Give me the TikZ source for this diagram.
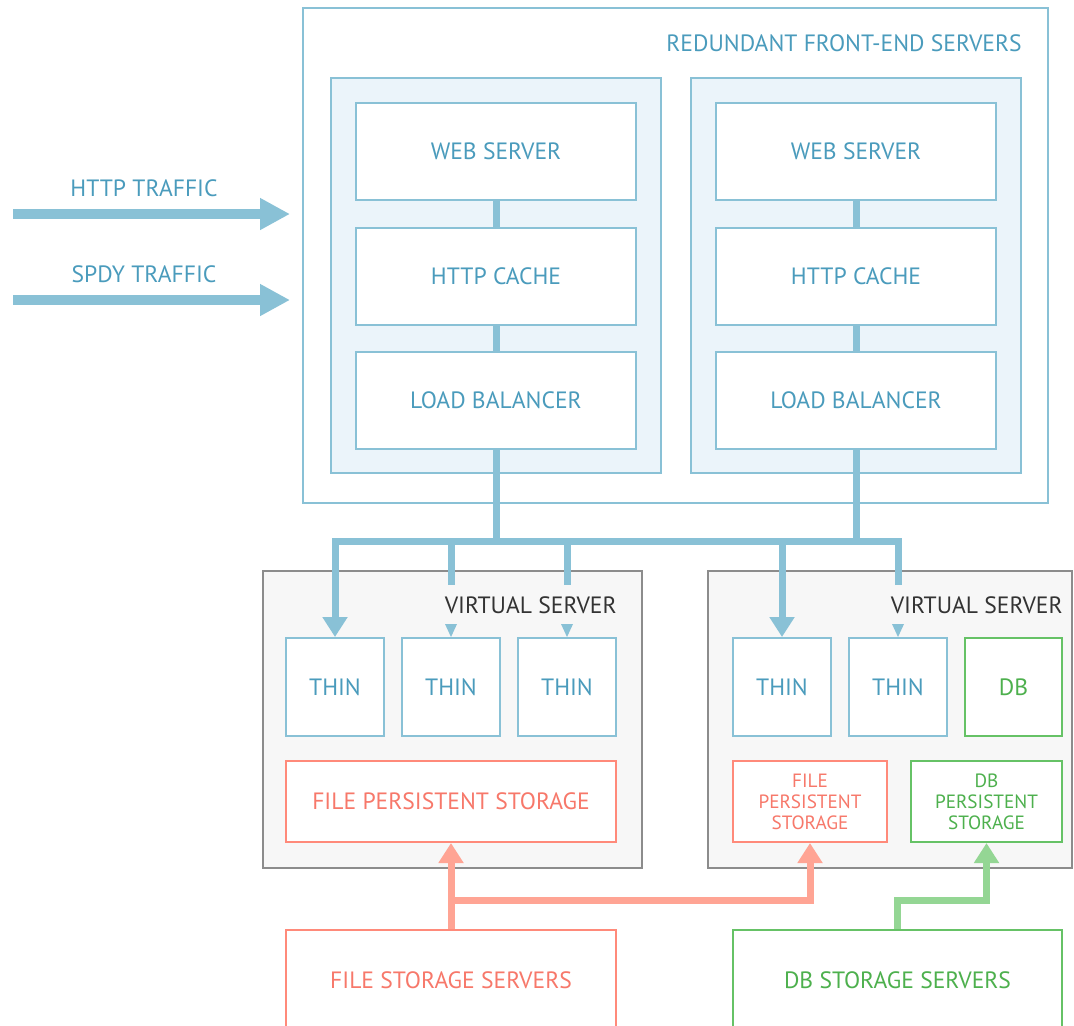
\documentclass[tikz,border=0pt]{standalone}
\usepackage{fontspec}
\setmainfont{PT Sans}
\usetikzlibrary{arrows.meta,calc}
\definecolor{blueline}{RGB}{137,193,214}
\definecolor{bluetext}{RGB}{74,155,188}
\definecolor{groupfill}{RGB}{235,244,250}
\definecolor{vsfill}{RGB}{247,247,247}
\definecolor{vsborder}{RGB}{140,140,140}
\definecolor{vstext}{RGB}{51,51,51}
\definecolor{redline}{RGB}{255,164,148}
\definecolor{redborder}{RGB}{255,138,122}
\definecolor{redtext}{RGB}{247,120,106}
\definecolor{greenline}{RGB}{148,214,148}
\definecolor{greenborder}{RGB}{102,194,102}
\definecolor{greentext}{RGB}{77,176,77}
\begin{document}
\begin{tikzpicture}[x=0.5pt, y=-0.5pt, >=Triangle,
    every node/.style={font=\fontsize{11.8}{13}\selectfont, inner sep=0pt},
    group/.style={draw=blueline, line width=1pt},
    box/.style={draw=blueline, fill=white, line width=1pt, text=bluetext, minimum width=140pt, minimum height=48.5pt},
    thin/.style={box, minimum width=49pt, minimum height=49pt},
    vserver/.style={draw=vsborder, fill=vsfill, line width=0.8pt, minimum height=148.5pt},
    redbox/.style={draw=redborder, fill=white, line width=1pt, text=redtext},
    greenbox/.style={draw=greenborder, fill=white, line width=1pt, text=greentext},
    small/.style={font=\fontsize{9.6}{10.5}\selectfont, align=center},
    link/.style={draw=blueline, line width=3.5pt, line join=miter},
    redlink/.style={draw=redline, line width=3.5pt, line join=miter},
    greenlink/.style={draw=greenline, line width=3.5pt, line join=miter},
    traffic/.style={draw=blueline, line width=5pt, -{Triangle[length=15pt, width=15pt]}},
    head/.style={-{Triangle[length=10pt, width=12pt]}}]
    \clip (0,0) rectangle (1074,1025); %画布范围

    %% 前端服务器
    \node[group, minimum width=372.5pt, minimum height=247.5pt] (frontend) at (675.5,255.5) {};
    \node[anchor=east, text=bluetext] (fetitle) at (1022,43) {REDUNDANT FRONT-END SERVERS};
    \node[group, fill=groupfill, minimum width=165pt, minimum height=197.5pt] (colL) at (496,275.5) {};
    \node[group, fill=groupfill, minimum width=165pt, minimum height=197.5pt] (colR) at (856,275.5) {};
    \node[box] (webL) at (496,151.5) {WEB SERVER};
    \node[box] (cacheL) at (496,276.5) {HTTP CACHE};
    \node[box] (lbL) at (496,400.5) {LOAD BALANCER};
    \node[box] (webR) at (856,151.5) {WEB SERVER};
    \node[box] (cacheR) at (856,276.5) {HTTP CACHE};
    \node[box] (lbR) at (856,400.5) {LOAD BALANCER};
    \draw[link] (webL) -- (cacheL);
    \draw[link] (cacheL) -- (lbL);
    \draw[link] (webR) -- (cacheR);
    \draw[link] (cacheR) -- (lbR);

    %% 流量箭头
    \coordinate (httpin) at (13,214);
    \coordinate (httpout) at (290,214);
    \coordinate (spdyin) at (13,300);
    \coordinate (spdyout) at (290,300);
    \node[text=bluetext] (httplabel) at (144,188) {HTTP TRAFFIC};
    \node[text=bluetext] (spdylabel) at (144,274) {SPDY TRAFFIC};
    \draw[traffic] (httpin) -- (httpout);
    \draw[traffic] (spdyin) -- (spdyout);

    %% 虚拟服务器
    \node[vserver, minimum width=189.5pt] (vsL) at (452.5,719.5) {};
    \node[vserver, minimum width=182pt] (vsR) at (890,719.5) {};
    \node[anchor=east, text=vstext] (vsLtitle) at (617,605) {VIRTUAL SERVER};
    \node[anchor=east, text=vstext] (vsRtitle) at (1063,605) {VIRTUAL SERVER};
    \node[thin] (thin1) at (335,687) {THIN};
    \node[thin] (thin2) at (451,687) {THIN};
    \node[thin] (thin3) at (567,687) {THIN};
    \node[thin] (thin4) at (782,687) {THIN};
    \node[thin] (thin5) at (898,687) {THIN};
    \node[greenbox, minimum width=48.5pt, minimum height=49pt] (db) at (1013.5,687) {DB};
    \node[redbox, minimum width=165pt, minimum height=40.5pt] (fpsL) at (451,801.5) {FILE PERSISTENT STORAGE};
    \node[redbox, small, minimum width=77pt, minimum height=40.5pt] (fpsR) at (810,801.5) {FILE\\PERSISTENT\\STORAGE};
    \node[greenbox, small, minimum width=75.5pt, minimum height=40.5pt] (dbps) at (986.5,801.5) {DB\\PERSISTENT\\STORAGE};

    %% 负载均衡到 THIN
    \coordinate (bus) at (496,541);
    \coordinate (stub) at (496,585);
    \draw[link] (lbL) -- (lbL |- bus);
    \draw[link] (lbR) -- (lbR |- bus);
    \draw[link, head] (thin5 |- stub) -- (thin5 |- bus) -- (thin1 |- bus) -- (thin1.north);
    \draw[link, head] (thin4 |- bus) -- (thin4.north);
    \draw[link] (thin2 |- bus) -- (thin2 |- stub);
    \draw[link] (thin3 |- bus) -- (thin3 |- stub);
    \foreach \t in {thin2,thin3,thin5}
        \fill[blueline] ($(\t.north)+(-6,-13)$) -- ($(\t.north)+(6,-13)$) -- (\t.north) -- cycle; %小三角

    %% 存储服务器
    \node[redbox, minimum width=165pt, minimum height=50pt] (filesrv) at (451,980) {FILE STORAGE SERVERS};
    \node[greenbox, minimum width=164.5pt, minimum height=50pt] (dbsrv) at (897.5,980) {DB STORAGE SERVERS};
    \coordinate (lowbus) at (451,900);
    \draw[redlink, head] (filesrv) -- (fpsL);
    \draw[redlink, head] (filesrv.north |- lowbus) -- (fpsR |- lowbus) -- (fpsR.south);
    \draw[greenlink, head] (dbsrv.north) -- (dbsrv.north |- lowbus) -- (dbps |- lowbus) -- (dbps.south);
\end{tikzpicture}
\end{document}
